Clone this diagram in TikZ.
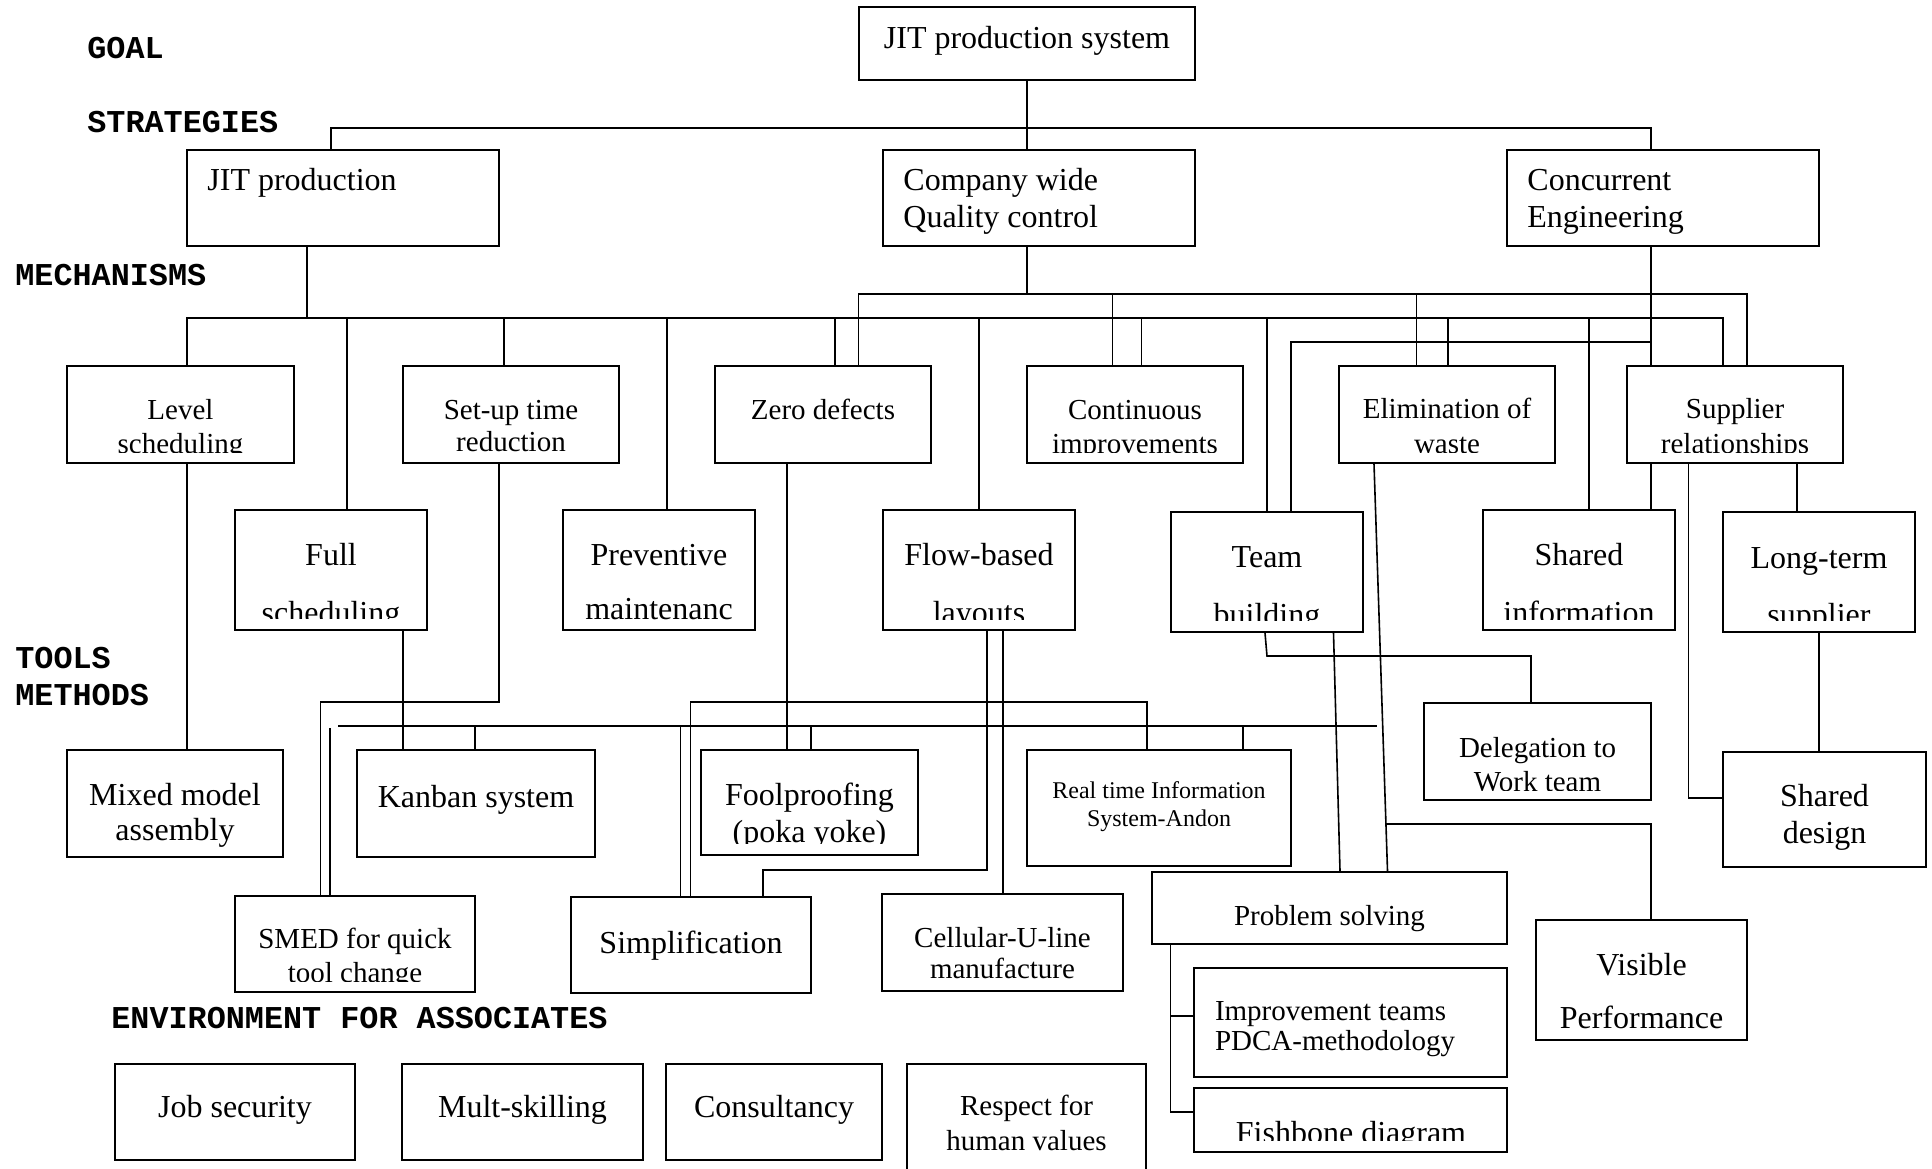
\documentclass[tikz,border=0pt]{standalone}
\usepackage{fontspec}
\setmainfont{Liberation Serif}
\setmonofont{Liberation Mono}
\usetikzlibrary{fit}

\tikzset{
  box/.style={draw, line width=1pt, inner sep=0pt, rectangle},
  ln/.style={line width=0.8pt},
  lbl/.style={font=\ttfamily\bfseries\fontsize{15.9}{18}\selectfont, anchor=base west, inner sep=0pt},
  tA/.style={font=\fontsize{16}{19}\selectfont, anchor=base, inner sep=0pt},
  tB/.style={font=\fontsize{14.5}{17}\selectfont, anchor=base, inner sep=0pt},
  tC/.style={font=\fontsize{12}{14}\selectfont, anchor=base, inner sep=0pt},
}
% rectangle node spanning two corners
\newcommand\mkbox[5]{\node[box, fit={(#2,#3) (#4,#5)}] (#1) {};}

\begin{document}
\begin{tikzpicture}[x=0.5pt,y=-0.5pt]
\clip (0,0) rectangle (1932,1168);
\fill[white] (0,0) rectangle (1932,1168);

% ---------- level headings ----------
\node[lbl] (goal) at (87,58) {GOAL};
\node[lbl] (strat) at (87,132) {STRATEGIES};
\node[lbl] (mech) at (15,285) {MECHANISMS};
\node[lbl] (tools) at (15,668) {TOOLS};
\node[lbl] (meth) at (15,705) {METHODS};
\node[lbl] (envi) at (111,1028) {ENVIRONMENT FOR ASSOCIATES};

% ---------- boxes ----------
\mkbox{sys}{858.5}{7}{1195}{80}
\mkbox{jitp}{187}{150}{499}{246}
\mkbox{cwqc}{882.6}{150}{1195}{246}
\mkbox{ce}{1507}{150}{1819}{246}
\mkbox{lvl}{67}{366}{294}{463}
\mkbox{setup}{403}{366}{619}{463}
\mkbox{zero}{715}{366}{931}{463}
\mkbox{cont}{1027}{366}{1243}{463}
\mkbox{elim}{1339}{366}{1555}{463}
\mkbox{sup}{1627}{366}{1843}{463}
\mkbox{full}{235}{510}{427}{630}
\mkbox{prev}{563}{510}{755}{630}
\mkbox{flow}{883}{510}{1075}{630}
\mkbox{team}{1171}{512}{1363}{632}
\mkbox{shinf}{1483}{510}{1675}{630}
\mkbox{lterm}{1723}{512}{1915}{632}
\mkbox{mix}{67}{750}{283}{857}
\mkbox{kan}{357}{750}{595}{857}
\mkbox{fool}{701}{750}{918}{855}
\mkbox{rti}{1027}{750}{1291}{866}
\mkbox{deleg}{1424}{703}{1651}{800}
\mkbox{sdes}{1723}{752}{1926}{867}
\mkbox{smed}{235}{896}{475}{992}
\mkbox{simp}{571}{897}{811}{993}
\mkbox{cell}{882}{894}{1123}{991}
\mkbox{ps}{1152}{872}{1507}{944}
\mkbox{impr}{1194}{968}{1507}{1077}
\mkbox{fish}{1194}{1088}{1507}{1152}
\mkbox{vis}{1536}{920}{1747}{1040}
\mkbox{job}{115}{1064}{355}{1160}
\mkbox{mult}{402}{1064}{643}{1160}
\mkbox{cons}{666}{1064}{882}{1160}
\mkbox{resp}{907}{1064}{1146}{1200}

% ---------- box texts ----------
\node[tA] (sys-t) at (1027,48) {JIT production system};
\node[tA, anchor=base west] (jitp-t) at (207,190) {JIT production};
\node[tA, anchor=base west] (cwqc-a) at (903,190) {Company wide};
\node[tA, anchor=base west] (cwqc-b) at (903,227) {Quality control};
\node[tA, anchor=base west] (ce-a) at (1527,190) {Concurrent};
\node[tA, anchor=base west] (ce-b) at (1527,227) {Engineering};

\node[tB] (lvl-a) at (180.5,419) {Level};
\begin{scope}\clip (67,366) rectangle (294,452);
  \node[tB] (lvl-b) at (180.5,453) {scheduling};\end{scope}
\node[tB] (setup-a) at (511,419) {Set-up time};
\node[tB] (setup-b) at (511,451) {reduction};
\node[tB] (zero-a) at (823,419) {Zero defects};
\node[tB] (cont-a) at (1135,419) {Continuous};
\begin{scope}\clip (1027,366) rectangle (1243,452);
  \node[tB] (cont-b) at (1135,453) {improvements};\end{scope}
\node[tB] (elim-a) at (1447,418) {Elimination of};
\begin{scope}\clip (1339,366) rectangle (1555,452);
  \node[tB] (elim-b) at (1447,453) {waste};\end{scope}
\node[tB] (sup-a) at (1735,418) {Supplier};
\begin{scope}\clip (1627,366) rectangle (1843,452);
  \node[tB] (sup-b) at (1735,453) {relationships};\end{scope}

\node[tA] (full-a) at (331,565) {Full};
\begin{scope}\clip (235,510) rectangle (427,618);
  \node[tA] (full-b) at (331,623) {scheduling};\end{scope}
\node[tA] (prev-a) at (659,565) {Preventive};
\node[tA] (prev-b) at (659,619) {maintenanc};
\node[tA] (flow-a) at (979,565) {Flow-based};
\begin{scope}\clip (883,510) rectangle (1075,619);
  \node[tA] (flow-b) at (979,623) {layouts};\end{scope}
\node[tA] (team-a) at (1267,567) {Team};
\begin{scope}\clip (1171,512) rectangle (1363,620);
  \node[tA] (team-b) at (1267,625) {building};\end{scope}
\node[tA] (shinf-a) at (1579,565) {Shared};
\begin{scope}\clip (1483,510) rectangle (1675,619);
  \node[tA] (shinf-b) at (1579,623) {information};\end{scope}
\node[tA] (lterm-a) at (1819,568) {Long-term};
\begin{scope}\clip (1723,512) rectangle (1915,620);
  \node[tA] (lterm-b) at (1819,625) {supplier};\end{scope}

\node[tA] (mix-a) at (175,805) {Mixed model};
\node[tA] (mix-b) at (175,840) {assembly};
\node[tA] (kan-a) at (476,807) {Kanban system};
\node[tA] (fool-a) at (809.5,805) {Foolproofing};
\begin{scope}\clip (701,750) rectangle (918,843);
  \node[tA] (fool-b) at (809.5,842) {(poka yoke)};\end{scope}
\node[tC] (rti-a) at (1159,798) {Real time Information};
\node[tC] (rti-b) at (1159,826) {System-Andon};
\node[tB] (deleg-a) at (1537.5,757) {Delegation to};
\begin{scope}\clip (1424,703) rectangle (1651,790);
  \node[tB] (deleg-b) at (1537.5,791) {Work team};\end{scope}
\node[tA] (sdes-a) at (1824.5,806) {Shared};
\node[tA] (sdes-b) at (1824.5,843) {design};
\node[tB] (smed-a) at (355,948) {SMED for quick};
\begin{scope}\clip (235,896) rectangle (475,981);
  \node[tB] (smed-b) at (355,982) {tool change};\end{scope}
\node[tA] (simp-a) at (691,953) {Simplification};
\node[tB] (cell-a) at (1002.5,947) {Cellular-U-line};
\node[tB] (cell-b) at (1002.5,978) {manufacture};
\node[tB] (ps-a) at (1329.5,925) {Problem solving};
\node[tB, anchor=base west] (impr-a) at (1214.6,1020) {Improvement teams};
\node[tB, anchor=base west] (impr-b) at (1214.6,1050) {PDCA-methodology};
\begin{scope}\clip (1194,1088) rectangle (1507,1140);
  \node[tA] (fish-a) at (1351,1143) {Fishbone diagram};\end{scope}
\node[tA] (vis-a) at (1641.5,975) {Visible};
\node[tA] (vis-b) at (1641.5,1028) {Performance};

\node[tA] (job-a) at (235,1117) {Job security};
\node[tA] (mult-a) at (522.5,1117) {Mult-skilling};
\node[tA] (cons-a) at (774,1117) {Consultancy};
\node[tB] (resp-a) at (1026.5,1115) {Respect for};
\node[tB] (resp-b) at (1026.5,1150) {human values};

% ---------- goal to strategies ----------
\draw[ln] (sys.south -| 1027,0) -- (cwqc.north -| 1027,0);
\draw[ln] (jitp.north -| 331,0) -- (331,128) -- (1651,128) -- (ce.north -| 1651,0);

% ---------- strategies to mechanisms ----------
% JIT production bus
\draw[ln] (jitp.south -| 307,0) -- (307,318);
\draw[ln] (lvl.north -| 187,0) -- (187,318) -- (1723,318) -- (sup.north -| 1723,0);
\draw[ln] (347,318) -- (full.north -| 347,0);
\draw[ln] (504,318) -- (setup.north -| 504,0);
\draw[ln] (667,318) -- (prev.north -| 667,0);
\draw[ln] (835,318) -- (zero.north -| 835,0);
\draw[ln] (979,318) -- (flow.north -| 979,0);
\draw[ln] (1141.5,318) -- (cont.north -| 1141.5,0);
\draw[ln] (1267,318) -- (team.north -| 1267,0);
\draw[ln] (1448,318) -- (elim.north -| 1448,0);
\draw[ln] (1589,318) -- (shinf.north -| 1589,0);
% company wide quality control bus
\draw[ln] (cwqc.south -| 1027,0) -- (1027,294);
\draw[ln] (zero.north -| 858.5,0) -- (858.5,294) -- (1747,294) -- (sup.north -| 1747,0);
\draw[ln] (1112.5,294) -- (cont.north -| 1112.5,0);
\draw[ln] (1416.6,294) -- (elim.north -| 1416.6,0);
% concurrent engineering bus
\draw[ln] (ce.south -| 1651,0) -- (sup.north -| 1651,0);
\draw[ln] (team.north -| 1291,0) -- (1291,342) -- (1651,342);
\draw[ln] (sup.south -| 1651,0) -- (shinf.north -| 1651,0);
\draw[ln] (sup.south -| 1797,0) -- (lterm.north -| 1797,0);

% ---------- mechanisms to tools ----------
\draw[ln] (lvl.south -| 187,0) -- (mix.north -| 187,0);
\draw[ln] (full.south -| 403,0) -- (kan.north -| 403,0);
\draw[ln] (setup.south -| 499,0) -- (499,702) -- (320.5,702) -- (smed.north -| 320.5,0);
\draw[ln] (338,726) -- (1377,726);
\draw[ln] (330,728) -- (smed.north -| 330,0);
\draw[ln] (475,726) -- (kan.north -| 475,0);
\draw[ln] (680.5,726) -- (simp.north -| 680.5,0);
\draw[ln] (811,726) -- (fool.north -| 811,0);
\draw[ln] (1243,726) -- (rti.north -| 1243,0);
\draw[ln] (simp.north -| 690.5,0) -- (690.5,702) -- (1147,702) -- (rti.north -| 1147,0);
\draw[ln] (zero.south -| 787,0) -- (fool.north -| 787,0);
\draw[ln] (flow.south -| 987,0) -- (987,870) -- (763,870) -- (simp.north -| 763,0);
\draw[ln] (flow.south -| 1003,0) -- (cell.north -| 1003,0);
\draw[ln] (team.south -| 1265,0) -- (1267,656) -- (1531,656) -- (deleg.north -| 1531,0);
\draw[ln] (team.south -| 1333.5,0) -- (ps.north -| 1340,0);
\draw[ln] (elim.south -| 1374,0) -- (ps.north -| 1387.5,0);
\coordinate (vj) at (1386,824);
\draw[ln] (vj) -- (1651,824) -- (vis.north -| 1651,0);
\draw[ln] (sup.south -| 1688.5,0) -- (1688.5,798) -- (sdes.west |- 0,798);
\draw[ln] (lterm.south -| 1819,0) -- (sdes.north -| 1819,0);
\draw[ln] (ps.south -| 1170.5,0) -- (1170.5,1112) -- (fish.west |- 0,1112);
\draw[ln] (1170.5,1016) -- (impr.west |- 0,1016);
\end{tikzpicture}
\end{document}
